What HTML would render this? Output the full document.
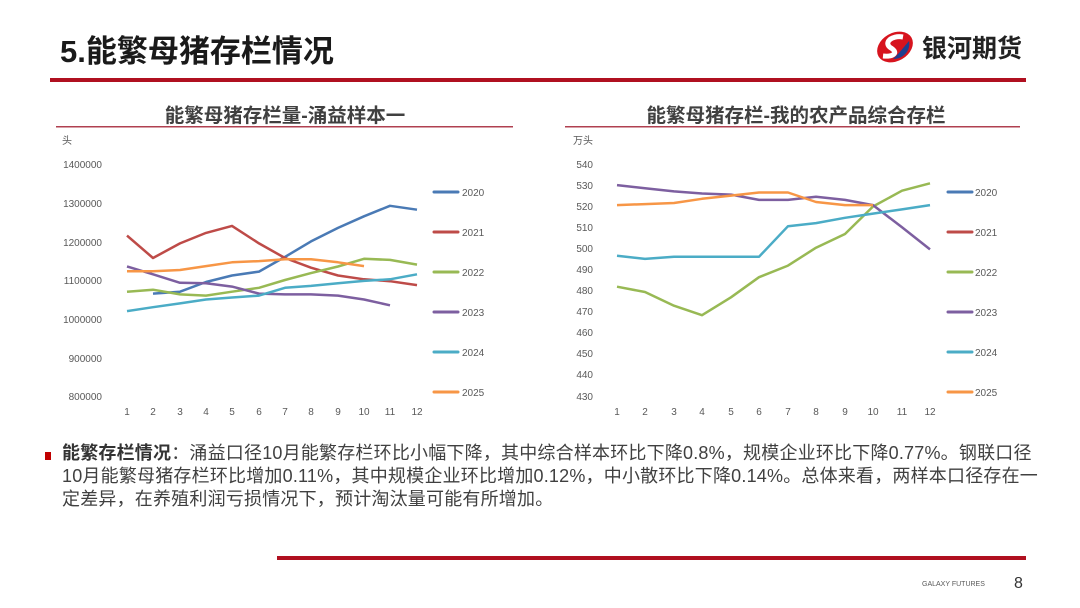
<!DOCTYPE html>
<html><head><meta charset="utf-8"><style>
body{margin:0;width:1080px;height:608px;background:#fff;overflow:hidden;font-family:"Liberation Sans","Noto Sans CJK SC",sans-serif;}
svg text{font-family:"Liberation Sans","Noto Sans CJK SC",sans-serif;}
.body{position:absolute;left:62px;top:442px;width:1000px;font-size:18px;line-height:23px;color:#404040;white-space:nowrap;letter-spacing:0.2px;}
</style></head><body>
<svg width="1080" height="608" style="position:absolute;left:0;top:0">
<text x="60" y="62" font-size="31" font-weight="bold" fill="#1a1a1a">5.能繁母猪存栏情况</text>
<g transform="translate(895,47)">
<ellipse cx="0" cy="0" rx="19" ry="14" fill="#d7141e" transform="rotate(-30)"/>
<path d="M8,-10 C-4,-12 -12,-4 -4,1 C4,6 -2,10 -12,9" stroke="#fff" stroke-width="5" fill="none"/>
<path d="M14,-6 C16,4 8,12 -2,12 L4,6 Z" fill="#1f3f8f"/>
</g>
<text x="922" y="57" font-size="25" font-weight="bold" fill="#222">银河期货</text>
<rect x="50" y="78" width="976" height="4" fill="#b01020"/>
<text x="285" y="122" font-size="19.5" font-weight="bold" fill="#404040" text-anchor="middle">能繁母猪存栏量-涌益样本一</text>
<rect x="56" y="126" width="457" height="1.5" fill="#b04050"/>
<text x="796" y="122" font-size="19.5" font-weight="bold" fill="#404040" text-anchor="middle">能繁母猪存栏-我的农产品综合存栏</text>
<rect x="565" y="126" width="455" height="1.5" fill="#b04050"/>
<g font-size="10" fill="#595959">
<text x="62" y="144">头</text>
<text x="102" y="168" text-anchor="end">1400000</text>
<text x="102" y="207" text-anchor="end">1300000</text>
<text x="102" y="246" text-anchor="end">1200000</text>
<text x="102" y="284" text-anchor="end">1100000</text>
<text x="102" y="323" text-anchor="end">1000000</text>
<text x="102" y="362" text-anchor="end">900000</text>
<text x="102" y="400" text-anchor="end">800000</text>
<g text-anchor="middle"><text x="127" y="415">1</text><text x="153" y="415">2</text><text x="180" y="415">3</text><text x="206" y="415">4</text><text x="232" y="415">5</text><text x="259" y="415">6</text><text x="285" y="415">7</text><text x="311" y="415">8</text><text x="338" y="415">9</text><text x="364" y="415">10</text><text x="390" y="415">11</text><text x="417" y="415">12</text></g>
<text x="573" y="144">万头</text>
<g text-anchor="end"><text x="593" y="168">540</text><text x="593" y="189">530</text><text x="593" y="210">520</text><text x="593" y="231">510</text><text x="593" y="252">500</text><text x="593" y="273">490</text><text x="593" y="294">480</text><text x="593" y="315">470</text><text x="593" y="336">460</text><text x="593" y="357">450</text><text x="593" y="378">440</text><text x="593" y="400">430</text></g>
<g text-anchor="middle"><text x="617" y="415">1</text><text x="645" y="415">2</text><text x="674" y="415">3</text><text x="702" y="415">4</text><text x="731" y="415">5</text><text x="759" y="415">6</text><text x="788" y="415">7</text><text x="816" y="415">8</text><text x="845" y="415">9</text><text x="873" y="415">10</text><text x="902" y="415">11</text><text x="930" y="415">12</text></g>
<text x="462" y="196">2020</text><text x="462" y="236">2021</text><text x="462" y="276">2022</text><text x="462" y="316">2023</text><text x="462" y="356">2024</text><text x="462" y="396">2025</text>
<text x="975" y="196">2020</text><text x="975" y="236">2021</text><text x="975" y="276">2022</text><text x="975" y="316">2023</text><text x="975" y="356">2024</text><text x="975" y="396">2025</text>
</g>
<g stroke-width="3" stroke-linecap="round">
<line x1="434" y1="192" x2="458" y2="192" stroke="#4a7ab5"/><line x1="434" y1="232" x2="458" y2="232" stroke="#be4b48"/><line x1="434" y1="272" x2="458" y2="272" stroke="#98b954"/><line x1="434" y1="312" x2="458" y2="312" stroke="#7d5fa0"/><line x1="434" y1="352" x2="458" y2="352" stroke="#4bacc6"/><line x1="434" y1="392" x2="458" y2="392" stroke="#f79646"/>
<line x1="948" y1="192" x2="972" y2="192" stroke="#4a7ab5"/><line x1="948" y1="232" x2="972" y2="232" stroke="#be4b48"/><line x1="948" y1="272" x2="972" y2="272" stroke="#98b954"/><line x1="948" y1="312" x2="972" y2="312" stroke="#7d5fa0"/><line x1="948" y1="352" x2="972" y2="352" stroke="#4bacc6"/><line x1="948" y1="392" x2="972" y2="392" stroke="#f79646"/>
</g>
<g fill="none" stroke-width="2.5" stroke-linejoin="round">
<polyline stroke="#4a7ab5" points="153,293.6 180,291.7 206,282 232,275.5 259,271.6 285,256.9 311,241.4 338,227.9 364,216.3 390,205.8 417,209.7"/>
<polyline stroke="#be4b48" points="127,235.6 153,258 180,243.4 206,232.9 232,225.9 259,243.4 285,258 311,267.7 338,275.5 364,279.3 390,281.2 417,285.1"/>
<polyline stroke="#98b954" points="127,291.7 153,289.7 180,294.4 206,295.6 232,291.7 259,287.8 285,280 311,273.1 338,266.5 364,258.8 390,259.9 417,264.6"/>
<polyline stroke="#7d5fa0" points="127,266.5 153,274.3 180,282.8 206,283.2 232,286.6 259,293.6 285,294.4 311,294.4 338,295.6 364,299.5 390,305.3"/>
<polyline stroke="#4bacc6" points="127,311.1 153,307.2 180,303.4 206,299.5 232,297.5 259,295.6 285,287.8 311,285.9 338,283.2 364,280.9 390,279.3 417,274.3"/>
<polyline stroke="#f79646" points="127,271.2 153,271.2 180,270 206,266.1 232,262.3 259,261.1 285,259.2 311,259.2 338,262.3 364,266.1"/>
<polyline stroke="#98b954" points="617,286.7 645,292 674,305.7 702,315.2 731,297.3 759,277.2 788,265.6 816,247.7 845,234 873,206.5 902,190.7 930,183.3"/>
<polyline stroke="#7d5fa0" points="617,185.1 645,188.3 674,191.4 702,193.5 731,194.6 759,199.9 788,199.9 816,196.7 845,199.9 873,205.1 902,227.3 930,249.4"/>
<polyline stroke="#4bacc6" points="617,255.7 645,258.9 674,256.8 702,256.8 731,256.8 759,256.8 788,226.2 816,223.1 845,217.8 873,213.6 902,209.4 930,205.1"/>
<polyline stroke="#f79646" points="617,205.1 645,204.1 674,203 702,198.8 731,195.6 759,192.5 788,192.5 816,202 845,205.1 873,205.1"/>
</g>
<rect x="45" y="452" width="6" height="8" fill="#c00000"/>
<rect x="277" y="556" width="749" height="4" fill="#b01020"/>
<text x="922" y="586" font-size="7" fill="#595959">GALAXY FUTURES</text>
<text x="1014" y="588" font-size="16" fill="#333">8</text>
</svg>
<div class="body"><b style="color:#333">能繁存栏情况</b>：涌益口径10月能繁存栏环比小幅下降，其中综合样本环比下降0.8%，规模企业环比下降0.77%。钢联口径<br>10月能繁母猪存栏环比增加0.11%，其中规模企业环比增加0.12%，中小散环比下降0.14%。总体来看，两样本口径存在一<br>定差异，在养殖利润亏损情况下，预计淘汰量可能有所增加。</div>
</body></html>
